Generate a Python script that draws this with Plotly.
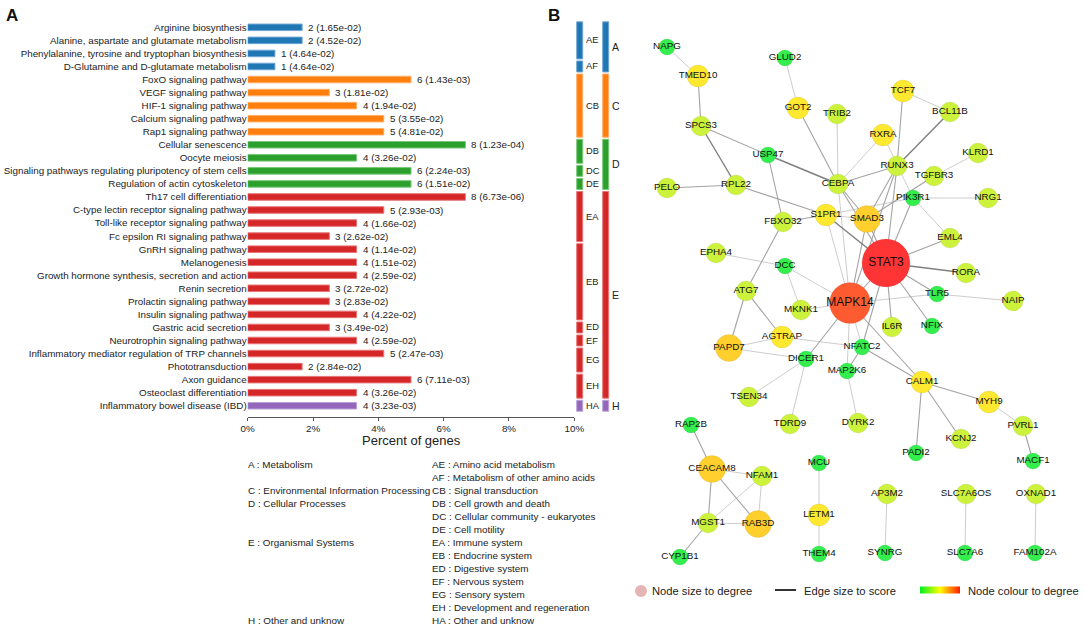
import plotly.graph_objects as go
import numpy as np

W, H = 1084, 629
FONT = "Liberation Sans, Arial, sans-serif"

# ---------------- Panel A data ----------------
pathways = [
    "Arginine biosynthesis",
    "Alanine, aspartate and glutamate metabolism",
    "Phenylalanine, tyrosine and tryptophan biosynthesis",
    "D-Glutamine and D-glutamate metabolism",
    "FoxO signaling pathway",
    "VEGF signaling pathway",
    "HIF-1 signaling pathway",
    "Calcium signaling pathway",
    "Rap1 signaling pathway",
    "Cellular senescence",
    "Oocyte meiosis",
    "Signaling pathways regulating pluripotency of stem cells",
    "Regulation of actin cytoskeleton",
    "Th17 cell differentiation",
    "C-type lectin receptor signaling pathway",
    "Toll-like receptor signaling pathway",
    "Fc epsilon RI signaling pathway",
    "GnRH signaling pathway",
    "Melanogenesis",
    "Growth hormone synthesis, secretion and action",
    "Renin secretion",
    "Prolactin signaling pathway",
    "Insulin signaling pathway",
    "Gastric acid secretion",
    "Neurotrophin signaling pathway",
    "Inflammatory mediator regulation of TRP channels",
    "Phototransduction",
    "Axon guidance",
    "Osteoclast differentiation",
    "Inflammatory bowel disease (IBD)",
]
gene_counts = [2, 2, 1, 1, 6, 3, 4, 5, 5, 8, 4, 6, 6, 8, 5, 4, 3, 4, 4, 4, 3, 3, 4, 3, 4, 5, 2, 6, 4, 4]
pvalues = [1.65e-02, 4.52e-02, 4.64e-02, 4.64e-02, 1.43e-03, 1.81e-02, 1.94e-02, 3.55e-02,
           4.81e-02, 1.23e-04, 3.26e-02, 2.24e-03, 1.51e-02, 6.73e-06, 2.93e-03, 1.66e-02,
           2.62e-02, 1.14e-02, 1.51e-02, 2.59e-02, 2.72e-02, 2.83e-02, 4.22e-02, 3.49e-02,
           2.59e-02, 2.47e-03, 2.84e-02, 7.11e-03, 3.26e-02, 3.23e-03]
subcategories = ["AE", "AE", "AE", "AF", "CB", "CB", "CB", "CB", "CB", "DB", "DB", "DC", "DE",
                 "EA", "EA", "EA", "EA", "EB", "EB", "EB", "EB", "EB", "EB", "ED", "EF", "EG",
                 "EG", "EH", "EH", "HA"]
total_genes = 120
x_ticks = [0, 2, 4, 6, 8, 10]

cat_names = ["A", "C", "D", "E", "H"]
cat_labels = ["Metabolism", "Environmental Information Processing", "Cellular Processes",
              "Organismal Systems", "Other and unknow"]
sub_names = ["AE", "AF", "CB", "DB", "DC", "DE", "EA", "EB", "ED", "EF", "EG", "EH", "HA"]
sub_labels = ["Amino acid metabolism", "Metabolism of other amino acids", "Signal transduction",
              "Cell growth and death", "Cellular community - eukaryotes", "Cell motility",
              "Immune system", "Endocrine system", "Digestive system", "Nervous system",
              "Sensory system", "Development and regeneration", "Other and unknow"]

cat_colors = {"A": "#1f77b4", "C": "#ff7f0e", "D": "#2ca02c", "E": "#d62728", "H": "#9467bd"}
cat_edge = {"A": "#6fa6d3", "C": "#ffae6a", "D": "#78c778", "E": "#e67576", "H": "#b9a2d6"}

# ---------------- Panel B data ----------------
node_names = ["NAPG", "TMED10", "GLUD2", "GOT2", "TRIB2", "TCF7", "BCL11B", "SPCS3", "RXRA",
              "USP47", "KLRD1", "RUNX3", "TGFBR3", "PELO", "RPL22", "CEBPA", "PIK3R1", "NRG1",
              "S1PR1", "SMAD3", "FBXO32", "EML4", "STAT3", "EPHA4", "DCC", "RORA", "ATG7",
              "TLR5", "NAIP", "MAPK14", "MKNK1", "IL6R", "NFIX", "AGTRAP", "PAPD7", "NFATC2",
              "DICER1", "MAP2K6", "CALM1", "TSEN34", "MYH9", "RAP2B", "TDRD9", "DYRK2", "PVRL1",
              "KCNJ2", "PADI2", "MACF1", "CEACAM8", "MCU", "NFAM1", "AP3M2", "SLC7A6OS",
              "OXNAD1", "LETM1", "MGST1", "RAB3D", "CYP1B1", "THEM4", "SYNRG", "SLC7A6",
              "FAM102A"]
node_x = [667, 698, 785, 798, 837, 903, 950, 701, 883, 768, 978, 897, 934, 667, 736, 838, 913,
          988, 826, 867, 783, 950, 886, 716, 785, 966, 746, 937, 1013, 850, 801, 892, 932, 782,
          729, 862, 806, 847, 922, 749, 989, 691, 790, 858, 1023, 961, 916, 1033, 712, 819,
          762, 887, 966, 1036, 819, 708, 758, 680, 819, 885, 965, 1035]
node_y = [47, 76, 58, 108, 114, 91, 112, 126, 135, 155, 153, 166, 176, 188, 185, 184, 198, 198,
          215, 219, 222, 238, 263, 253, 266, 273, 291, 294, 301, 303, 310, 327, 326, 337, 348,
          347, 359, 371, 382, 397, 402, 425, 424, 423, 426, 439, 453, 461, 469, 463, 476, 494,
          494, 494, 515, 523, 524, 557, 554, 553, 553, 553]
node_degree = [1, 3, 1, 3, 2, 3, 2, 2, 3, 1, 2, 2, 2, 2, 2, 2, 1, 2, 3, 4, 2, 2, 14, 2, 1, 2, 2,
               1, 2, 11, 2, 2, 1, 3, 4, 1, 1, 1, 3, 2, 3, 1, 2, 2, 2, 2, 1, 1, 4, 1, 2, 2, 2, 2,
               3, 2, 4, 1, 1, 1, 1, 1]

edge_source = ["NAPG", "TMED10", "GLUD2", "GOT2", "TRIB2", "SPCS3", "SPCS3", "USP47", "USP47",
               "PELO", "RPL22", "CEBPA", "CEBPA", "TCF7", "TCF7", "BCL11B", "RXRA", "KLRD1",
               "TGFBR3", "PIK3R1", "PIK3R1", "PIK3R1", "RUNX3", "RUNX3", "RUNX3", "CEBPA",
               "CEBPA", "CEBPA", "S1PR1", "FBXO32", "S1PR1", "S1PR1", "S1PR1", "SMAD3", "SMAD3",
               "STAT3", "STAT3", "STAT3", "STAT3", "STAT3", "STAT3", "STAT3", "TLR5", "MAPK14",
               "EPHA4", "DCC", "DCC", "MKNK1", "MAPK14", "MAPK14", "MAPK14", "MAPK14", "FBXO32",
               "ATG7", "ATG7", "PAPD7", "PAPD7", "AGTRAP", "NFATC2", "NFATC2", "DICER1",
               "DICER1", "MAP2K6", "CALM1", "CALM1", "CALM1", "MYH9", "PVRL1", "RAP2B",
               "CEACAM8", "CEACAM8", "CEACAM8", "NFAM1", "NFAM1", "MGST1", "MGST1", "MCU",
               "LETM1", "AP3M2", "SLC7A6OS", "OXNAD1"]
edge_target = ["TMED10", "SPCS3", "GOT2", "CEBPA", "CEBPA", "USP47", "RPL22", "CEBPA", "FBXO32",
               "RPL22", "S1PR1", "RXRA", "RUNX3", "BCL11B", "RUNX3", "RUNX3", "PIK3R1", "TGFBR3",
               "SMAD3", "NRG1", "EML4", "STAT3", "STAT3", "SMAD3", "MAPK14", "SMAD3", "STAT3",
               "MAPK14", "SMAD3", "S1PR1", "STAT3", "PIK3R1", "MAPK14", "STAT3", "MAPK14",
               "MAPK14", "EML4", "RORA", "TLR5", "NFIX", "IL6R", "NFATC2", "NAIP", "TLR5",
               "DCC", "MKNK1", "MAPK14", "MAPK14", "DICER1", "CALM1", "NFATC2", "MAP2K6", "ATG7",
               "PAPD7", "AGTRAP", "AGTRAP", "DICER1", "NFATC2", "MAP2K6", "CALM1", "TSEN34",
               "TDRD9", "DYRK2", "MYH9", "PADI2", "KCNJ2", "PVRL1", "MACF1", "CEACAM8", "NFAM1",
               "MGST1", "RAB3D", "MGST1", "RAB3D", "RAB3D", "CYP1B1", "LETM1", "THEM4", "SYNRG",
               "SLC7A6", "FAM102A"]
edge_score = [1, 2, 1, 2, 1, 2, 3, 3, 2, 2, 2, 1, 2, 1, 2, 3, 1, 1, 2, 1, 1, 2, 2, 2, 2, 2, 2,
              1, 1, 2, 3, 1, 1, 2, 2, 2, 2, 3, 2, 2, 2, 2, 1, 1, 1, 1, 1, 1, 2, 2, 1, 1, 2, 2,
              2, 1, 1, 1, 2, 2, 1, 1, 1, 2, 2, 2, 1, 2, 2, 1, 2, 2, 1, 1, 1, 2, 1, 1, 1, 1, 1]

# ---------------- Geometry helpers (pixel -> paper) ----------------
def px(x):
    return x / W

def py(y):
    return 1 - y / H

n_rows = len(pathways)
rows = list(range(n_rows))
percent = [c / total_genes * 100 for c in gene_counts]
categories = [s[0] for s in subcategories]

fig = go.Figure()

# Main bars
fig.add_trace(go.Bar(
    y=rows, x=percent, orientation="h", width=0.5,
    marker=dict(color=[cat_colors[c] for c in categories],
                line=dict(color=[cat_edge[c] for c in categories], width=1)),
    xaxis="x", yaxis="y", showlegend=False, hoverinfo="skip",
))

# Group bars (subcategory and category columns)
def groups(labels):
    out = []
    start = 0
    for i in range(1, len(labels) + 1):
        if i == len(labels) or labels[i] != labels[start]:
            out.append((labels[start], start, i - 1))
            start = i
    return out

sub_groups = groups(subcategories)
cat_groups = groups(categories)
gx, gbase, glen, gcol, gedge = [], [], [], [], []
for col, grp in ((0.5, sub_groups), (1.5, cat_groups)):
    for name, a, b in grp:
        gx.append(col)
        gbase.append(a - 0.42)
        glen.append(b - a + 0.84)
        gcol.append(cat_colors[name[0]])
        gedge.append(cat_edge[name[0]])
fig.add_trace(go.Bar(
    x=gx, y=glen, base=gbase, width=0.23,
    marker=dict(color=gcol, line=dict(color=gedge, width=1)),
    xaxis="x2", yaxis="y", showlegend=False, hoverinfo="skip",
))

annotations = []
for i in rows:
    annotations.append(dict(
        x=percent[i], y=i, xref="x", yref="y", xanchor="left", yanchor="middle",
        xshift=4, showarrow=False, text=f"{gene_counts[i]} ({pvalues[i]:.2e})",
        font=dict(size=9.8, color="#222", family=FONT)))
for col, grp in ((0.66, sub_groups), (1.67, cat_groups)):
    for name, a, b in grp:
        annotations.append(dict(
            x=col, y=(a + b) / 2, xref="x2", yref="y", xanchor="left", yanchor="middle",
            showarrow=False, text=name,
            font=dict(size=9.3 if len(name) == 2 else 10.5, color="#222", family=FONT)))

# x axis title
annotations.append(dict(x=px(411), y=py(440), xref="paper", yref="paper", showarrow=False,
                        text="Percent of genes", xanchor="center", yanchor="middle",
                        font=dict(size=13, color="#222", family=FONT)))

# Category legend text
line0, step = 464, 13.08
cat_row_index = {"A": 0, "C": 2, "D": 3, "E": 6, "H": 12}
for name, lab in zip(cat_names, cat_labels):
    annotations.append(dict(x=px(246), y=py(line0 + step * cat_row_index[name]), xref="paper",
                            yref="paper", showarrow=False, xanchor="left", yanchor="middle",
                            text=f"{name} : {lab}", font=dict(size=9.9, color="#222", family=FONT)))
for k, (name, lab) in enumerate(zip(sub_names, sub_labels)):
    annotations.append(dict(x=px(430), y=py(line0 + step * k), xref="paper", yref="paper",
                            showarrow=False, xanchor="left", yanchor="middle",
                            text=f"{name} : {lab}", font=dict(size=9.9, color="#222", family=FONT)))

# Panel letters
for letter, lx in (("A", 12), ("B", 554)):
    annotations.append(dict(x=px(lx), y=py(15), xref="paper", yref="paper", showarrow=False,
                            xanchor="center", yanchor="middle", text=f"<b>{letter}</b>",
                            font=dict(size=17, color="#111", family=FONT)))

# ---------------- Network ----------------
idx = {n: i for i, n in enumerate(node_names)}
edge_style = {1: ("#cdcdcd", 1.0), 2: ("#a3a3a3", 1.1), 3: ("#7f7f7f", 1.4)}
for lvl in (1, 2, 3):
    ex, ey = [], []
    for s, t, sc in zip(edge_source, edge_target, edge_score):
        if sc == lvl:
            ex += [node_x[idx[s]], node_x[idx[t]], None]
            ey += [node_y[idx[s]], node_y[idx[t]], None]
    fig.add_trace(go.Scatter(x=ex, y=ey, mode="lines", xaxis="x3", yaxis="y3",
                             line=dict(color=edge_style[lvl][0], width=edge_style[lvl][1]),
                             hoverinfo="skip", showlegend=False))

deg_pts = [1, 2, 3, 4, 11, 14]
size_pts = [16, 20, 22, 27, 41, 48]
col_pts = ["#33ee4d", "#cdf23c", "#ffe830", "#ffcf2e", "#ff5b30", "#ff3434"]

def hex2rgb(h):
    return [int(h[i:i + 2], 16) for i in (1, 3, 5)]

rgb_pts = np.array([hex2rgb(c) for c in col_pts])
node_colors = []
for d in node_degree:
    r = [int(round(np.interp(d, deg_pts, rgb_pts[:, k]))) for k in range(3)]
    node_colors.append(f"rgb({r[0]},{r[1]},{r[2]})")
node_sizes = [float(np.interp(d, deg_pts, size_pts)) for d in node_degree]
label_sizes = [12 if d >= 10 else 9.8 for d in node_degree]

fig.add_trace(go.Scatter(
    x=node_x, y=node_y, mode="markers+text", text=node_names, textposition="middle center",
    textfont=dict(size=label_sizes, color="#111", family=FONT),
    marker=dict(size=node_sizes, color=node_colors, opacity=1,
                line=dict(color="rgba(0,0,0,0.10)", width=0.6)),
    xaxis="x3", yaxis="y3", hoverinfo="skip", showlegend=False, cliponaxis=False,
))

# colour legend (gradient) via a colorbar
fig.add_trace(go.Scatter(
    x=[-1000], y=[-1000], mode="markers", xaxis="x3", yaxis="y3", showlegend=False,
    hoverinfo="skip",
    marker=dict(color=[0], cmin=0, cmax=1, size=1,
                colorscale=[[0, "#00ee22"], [0.5, "#ffff00"], [1, "#ff1a00"]],
                showscale=True,
                colorbar=dict(orientation="h", x=px(940), xanchor="center", y=py(590),
                              yanchor="middle", len=40, lenmode="pixels", thickness=7,
                              thicknessmode="pixels", showticklabels=False, ticks="",
                              outlinewidth=0, xpad=0, ypad=0)),
))

shapes = [
    dict(type="circle", xref="paper", yref="paper", x0=px(635), x1=px(647), y0=py(597),
         y1=py(585), fillcolor="#e5b5b5", line=dict(width=0)),
    dict(type="line", xref="paper", yref="paper", x0=px(775), x1=px(796), y0=py(590),
         y1=py(590), line=dict(color="#333", width=2)),
]
for tx, txt in ((650, "Node size to degree"), (802, "Edge size to score"),
                (966, "Node colour to degree")):
    annotations.append(dict(x=px(tx), y=py(591), xref="paper", yref="paper", showarrow=False,
                            xanchor="left", yanchor="middle", text=txt,
                            font=dict(size=11.2, color="#222", family=FONT)))

fig.update_layout(
    width=W, height=H, margin=dict(l=0, r=0, t=0, b=0, autoexpand=False),
    paper_bgcolor="white", plot_bgcolor="white", barmode="overlay",
    font=dict(family=FONT, color="#222"),
    xaxis=dict(domain=[px(247.7), px(574.3)], range=[0, 10], tickvals=x_ticks,
               ticktext=[f"{t}%" for t in x_ticks], ticks="outside", ticklen=3,
               tickcolor="#555", showline=True, linecolor="#555", linewidth=1,
               showgrid=False, zeroline=False, tickfont=dict(size=9.8, color="#222"),
               anchor="y", fixedrange=True, automargin=False),
    yaxis=dict(domain=[py(416.7), py(19.5)], range=[29.84, -0.6], tickvals=rows,
               ticktext=pathways, ticks="", showline=False, showgrid=False, zeroline=False,
               tickfont=dict(size=9.8, color="#222"), anchor="x", fixedrange=True,
               automargin=False),
    xaxis2=dict(domain=[px(566.7), px(618.7)], range=[0, 2], visible=False, anchor="y",
                automargin=False),
    xaxis3=dict(domain=[px(620), 1], range=[620, 1084], visible=False, anchor="y3",
                automargin=False),
    yaxis3=dict(domain=[0, 1], range=[629, 0], visible=False, anchor="x3", automargin=False),
    annotations=annotations, shapes=shapes,
)

fig.write_html("out.html", config={"displayModeBar": False},
               post_script="document.body.style.margin='0';document.body.style.overflow='hidden';")
